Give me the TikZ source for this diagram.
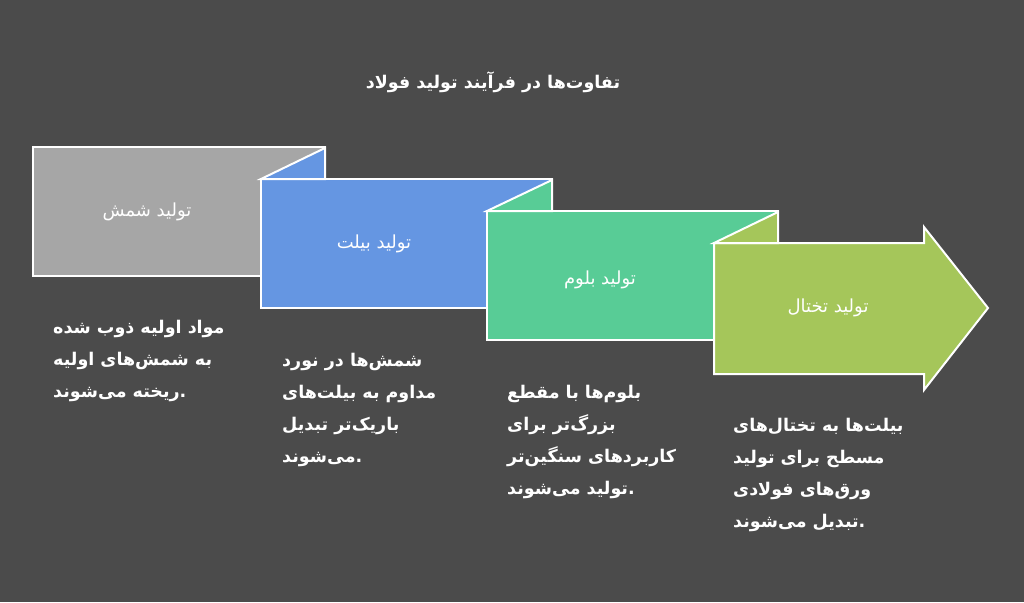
\documentclass[tikz,border=0pt]{standalone}
\usepackage{fontspec}
\newfontfamily\fa[Script=Arabic]{DejaVu Sans}
\TeXXeTstate=1
\definecolor{bg}{RGB}{75,75,75}
\definecolor{cgrey}{RGB}{166,166,166}
\definecolor{cblue}{RGB}{101,150,226}
\definecolor{cgreen}{RGB}{88,204,150}
\definecolor{clime}{RGB}{165,198,90}
\tikzset{
  stepshape/.style={draw=white, line width=2pt, line join=miter},
  steplabel/.style={text=white, font=\fa\fontsize{18}{21}\selectfont, inner sep=0pt},
  desc/.style={text=white, font=\fa\bfseries\fontsize{17.5}{32}\selectfont, align=left, anchor=north west, inner sep=0pt},
  titletext/.style={text=white, font=\fa\bfseries\fontsize{17.5}{20}\selectfont, inner sep=0pt}
}
\begin{document}
\begin{tikzpicture}[x=1pt,y=-1pt]
\fill[bg] (0,0) rectangle (1024,602);
\useasboundingbox (0,0) rectangle (1024,602);
% title
\node[titletext] (title) at (493,82) {\beginR تفاوت^^^^200cها در فرآیند تولید فولاد\endR};
% step 1
\draw[stepshape, fill=cgrey] (33,147) rectangle (325,276);
% step 2
\draw[stepshape, fill=cblue] (261,179) rectangle (552,308);
\draw[stepshape, fill=cblue] (261,179) -- (325,148) -- (325,179) -- cycle;
% step 3
\draw[stepshape, fill=cgreen] (487,211) rectangle (778,340);
\draw[stepshape, fill=cgreen] (487,211) -- (552,180) -- (552,211) -- cycle;
% step 4 arrow
\draw[stepshape, fill=clime] (714,243) -- (924,243) -- (924,227) -- (988,308) -- (924,390) -- (924,374) -- (714,374) -- cycle;
\draw[stepshape, fill=clime] (714,243) -- (778,212) -- (778,243) -- cycle;
% labels
\node[steplabel] (l1) at (147,212) {\beginR تولید شمش\endR};
\node[steplabel] (l2) at (374,244) {\beginR تولید بیلت\endR};
\node[steplabel] (l3) at (600,280) {\beginR تولید بلوم\endR};
\node[steplabel] (l4) at (828,308) {\beginR تولید تختال\endR};
% descriptions
\node[desc] (d1) at (53,320) {\beginR مواد اولیه ذوب شده\endR\\ \beginR به شمش^^^^200cهای اولیه\endR\\ \beginR ریخته می^^^^200cشوند\endR.};
\node[desc] (d2) at (282,353) {\beginR شمش^^^^200cها در نورد\endR\\ \beginR مداوم به بیلت^^^^200cهای\endR\\ \beginR باریک^^^^200cتر تبدیل\endR\\ \beginR می^^^^200cشوند\endR.};
\node[desc] (d3) at (507,385) {\beginR بلوم^^^^200cها با مقطع\endR\\ \beginR بزرگ^^^^200cتر برای\endR\\ \beginR کاربردهای سنگین^^^^200cتر\endR\\ \beginR تولید می^^^^200cشوند\endR.};
\node[desc] (d4) at (733,418) {\beginR بیلت^^^^200cها به تختال^^^^200cهای\endR\\ \beginR مسطح برای تولید\endR\\ \beginR ورق^^^^200cهای فولادی\endR\\ \beginR تبدیل می^^^^200cشوند\endR.};
\end{tikzpicture}
\end{document}
